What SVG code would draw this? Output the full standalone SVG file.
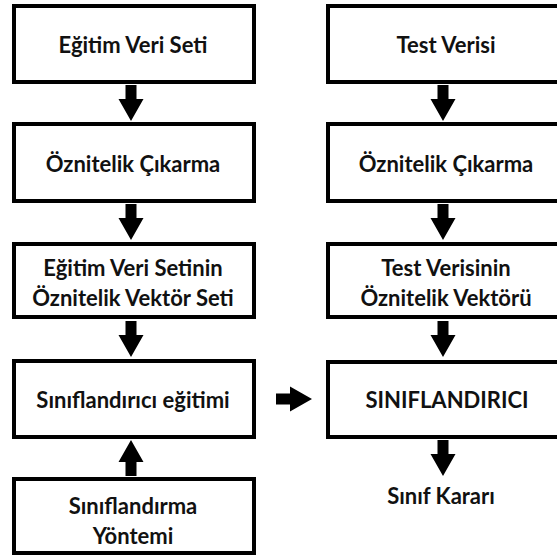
<svg xmlns="http://www.w3.org/2000/svg" xmlns:xlink="http://www.w3.org/1999/xlink" width="557" height="555" viewBox="0 0 557 555">
<style>
.box{fill:#fff;stroke:#000;stroke-width:4}
.t{font-family:Lato,"Open Sans",sans-serif;font-weight:bold;font-size:22px;fill:#111;text-anchor:middle;dominant-baseline:central}
.arr{fill:#000}
</style>
<defs>
<path id="down" class="arr" d="M-5.5,0 H5.5 V14 H12.5 L0,36 L-12.5,14 H-5.5 Z"/>
</defs>
<rect width="557" height="555" fill="#fff"/>
<g id="connectors">
<use xlink:href="#down" transform="translate(131,85)"/>
<use xlink:href="#down" transform="translate(131,204)"/>
<use xlink:href="#down" transform="translate(131,321)"/>
<use xlink:href="#down" transform="translate(131,476) rotate(180)"/>
<use xlink:href="#down" transform="translate(276,399) rotate(-90)"/>
<use xlink:href="#down" transform="translate(443,85)"/>
<use xlink:href="#down" transform="translate(443,204)"/>
<use xlink:href="#down" transform="translate(443,321)"/>
<use xlink:href="#down" transform="translate(443,440)"/>
</g>
<g id="egitim-veri-seti"><rect class="box" x="14" y="6" width="240" height="76"/><text class="t" x="133" y="44">Eğitim Veri Seti</text></g>
<g id="oznitelik-cikarma-1"><rect class="box" x="14" y="124" width="240" height="77"/><text class="t" x="133" y="163">Öznitelik Çıkarma</text></g>
<g id="vektor-seti"><rect class="box" x="14" y="244" width="240" height="73"/><text class="t" x="133" y="267">Eğitim Veri Setinin</text><text class="t" x="133" y="297">Öznitelik Vektör Seti</text></g>
<g id="siniflandirici-egitimi"><rect class="box" x="14" y="361" width="240" height="76"/><text class="t" x="133" y="399">Sınıflandırıcı eğitimi</text></g>
<g id="siniflandirma-yontemi"><rect class="box" x="14" y="479" width="240" height="74"/><text class="t" x="133" y="505">Sınıflandırma</text><text class="t" x="133" y="535">Yöntemi</text></g>
<g id="test-verisi"><rect class="box" x="328" y="6" width="235" height="76"/><text class="t" x="446" y="44">Test Verisi</text></g>
<g id="oznitelik-cikarma-2"><rect class="box" x="328" y="124" width="235" height="77"/><text class="t" x="446" y="163">Öznitelik Çıkarma</text></g>
<g id="vektoru"><rect class="box" x="328" y="244" width="235" height="73"/><text class="t" x="446" y="267">Test Verisinin</text><text class="t" x="446" y="297">Öznitelik Vektörü</text></g>
<g id="siniflandirici"><rect class="box" x="328" y="362" width="235" height="75"/><text class="t" x="447" y="399">SINIFLANDIRICI</text></g>
<g id="sinif-karari"><text class="t" x="441" y="495">Sınıf Kararı</text></g>
</svg>
